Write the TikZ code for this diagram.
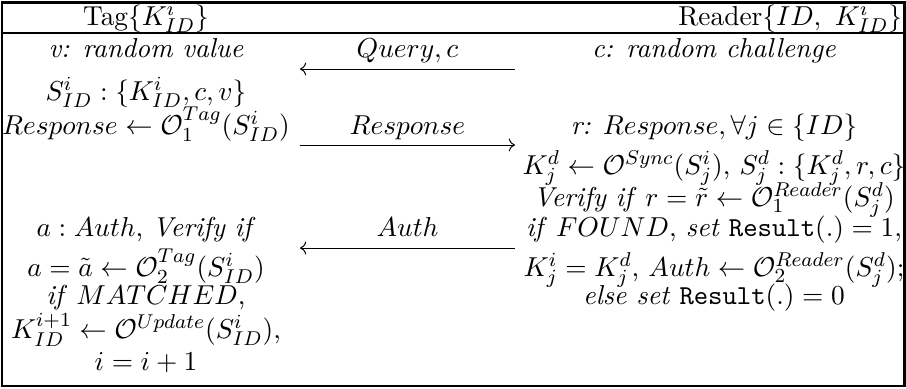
\documentclass[tikz,border=0pt]{standalone}
\usetikzlibrary{arrows.meta}
\begin{document}
\begin{tikzpicture}[x=0.4pt,y=-0.4pt,
  every node/.style={font=\fontsize{10.95}{13.6}\selectfont},
  txt/.style={anchor=base,inner sep=0pt,outer sep=0pt},
  frame/.style={line width=1pt},
  msg/.style={line width=0.4pt,-{Computer Modern Rightarrow}}]
\useasboundingbox (0,0) rectangle (906,388);
% frame and header rule
\draw[frame] (2,2.5) rectangle (904.5,386);
\draw[frame] (2,33) -- (904.5,33);
% header
\node[txt] (tag) at (146,25) {Tag$\{K^i_{ID}\}$};
\node[txt,anchor=base east] (reader) at (902,25) {Reader$\{ID,\ K^i_{ID}\}$};
% tag column
\node[txt] (l1) at (146,57) {\textit{v: random value}};
\node[txt] (l2) at (146,100) {$S^i_{ID} : \{K^i_{ID}, c, v\}$};
\node[txt] (l3) at (146,134) {$Response \leftarrow \mathcal{O}_1^{Tag}(S^i_{ID})$};
\node[txt] (l4) at (146,236) {$a : Auth$, \textit{Verify if}};
\node[txt] (l5) at (146,276) {$a = \tilde{a} \leftarrow \mathcal{O}_2^{Tag}(S^i_{ID})$};
\node[txt] (l6) at (146,304) {\textit{if} $MATCHED$,};
\node[txt] (l7) at (146,338) {$K^{i+1}_{ID} \leftarrow \mathcal{O}^{Update}(S^i_{ID})$,};
\node[txt] (l8) at (146,370) {$i = i + 1$};
% reader column
\node[txt] (r1) at (714,57) {\textit{c: random challenge}};
\node[txt] (r2) at (714,134) {\textit{r:} $Response, \forall j \in \{ID\}$};
\node[txt] (r3) at (714,174) {$K_j^d \leftarrow \mathcal{O}^{Sync}(S_j^i)$, $S_j^d : \{K_j^d, r, c\}$};
\node[txt] (r4) at (714,206) {\textit{Verify if} $r = \tilde{r} \leftarrow \mathcal{O}_1^{Reader}(S_j^d)$};
\node[txt] (r5) at (714,236) {\textit{if} $FOUND$, \textit{set} \texttt{Result}$(.) = 1$,};
\node[txt] (r6) at (714,276) {$K_j^i = K_j^d$, $Auth \leftarrow \mathcal{O}_2^{Reader}(S_j^d)$;};
\node[txt] (r7) at (714,304) {\textit{else set} \texttt{Result}$(.) = 0$};
% messages
\coordinate (qL) at (300,69);  \coordinate (qR) at (515,69);
\coordinate (pL) at (300,145); \coordinate (pR) at (515,145);
\coordinate (aL) at (300,248); \coordinate (aR) at (515,248);
\node[txt] (qlab) at (407.5,57) {$Query, c$};
\node[txt] (plab) at (407.5,134) {$Response$};
\node[txt] (alab) at (407.5,236) {$Auth$};
\draw[msg] (qR) -- (qL);
\draw[msg] (pL) -- (pR);
\draw[msg] (aR) -- (aL);
\end{tikzpicture}
\end{document}
